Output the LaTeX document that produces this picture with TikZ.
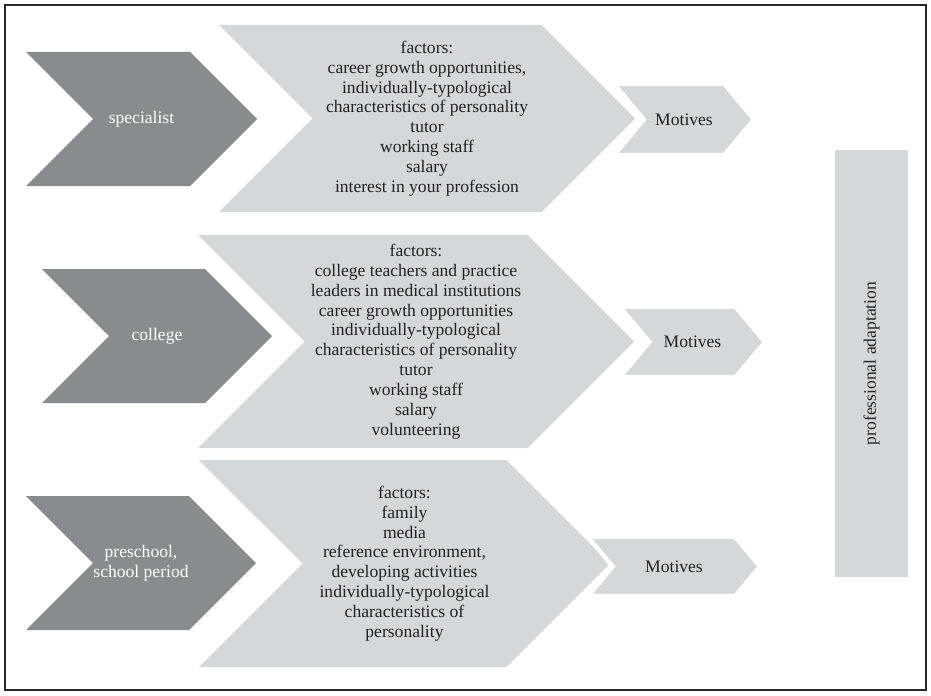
\documentclass[tikz,border=0pt]{standalone}
\usepackage{fontspec}
\setmainfont{Liberation Serif}
\usepackage{tikz}
\usetikzlibrary{shapes.symbols}
\definecolor{figdark}{RGB}{138,139,143}
\definecolor{figlight}{RGB}{214,215,217}
\definecolor{figtext}{RGB}{34,34,34}
\definecolor{figframe}{RGB}{40,40,40}
\tikzset{
  stagebox/.style={shape=signal, signal from=west, signal to=east, signal pointer angle=90, fill=figdark, inner sep=0pt, align=center, text=white, font=\fontsize{10}{11.3}\selectfont},
  factorbox/.style={shape=signal, signal from=west, signal to=east, signal pointer angle=90, fill=figlight, inner sep=0pt, align=center, text=figtext, font=\fontsize{10}{11.3}\selectfont},
  motivebox/.style={shape=signal, signal from=west, signal to=east, signal pointer angle=100, fill=figlight, draw=white, line width=2.5pt, inner sep=0pt, align=center, text=figtext, font=\fontsize{10}{11.3}\selectfont},
  resultbox/.style={rectangle, fill=figlight, inner sep=0pt, text=figtext, font=\fontsize{10}{11.3}\selectfont},
  outerframe/.style={draw=figframe, line width=0.7pt}
}

\begin{document}
\begin{tikzpicture}[x=1cm,y=1cm]
  \useasboundingbox (0,0) rectangle (18.62,13.9);
  \draw[outerframe] (0.1,0.1) rectangle (18.52,13.8);

  % specialist row
  \node[factorbox, minimum width=8.32cm, minimum height=3.74cm] (factorsA) at (8.54,11.53)
    {factors:\\career growth opportunities,\\individually-typological\\characteristics of personality\\tutor\\working staff\\salary\\interest in your profession};
  \node[stagebox, minimum width=4.62cm, minimum height=2.68cm] (specialist) at (2.83,11.52) {specialist};
  \node[motivebox, minimum width=2.8cm, minimum height=1.42cm] (motivesA) at (13.68,11.51) {Motives};

  % college row
  \node[factorbox, minimum width=8.72cm, minimum height=4.26cm] (factorsB) at (8.32,7.07)
    {factors:\\college teachers and practice\\leaders in medical institutions\\career growth opportunities\\individually-typological\\characteristics of personality\\tutor\\working staff\\salary\\volunteering};
  \node[stagebox, minimum width=4.6cm, minimum height=2.68cm] (college) at (3.14,7.18) {college};
  \node[motivebox, minimum width=2.9cm, minimum height=1.4cm] (motivesB) at (13.85,7.06) {Motives};

  % preschool row
  \node[factorbox, minimum width=8.22cm, minimum height=4.14cm] (factorsC) at (8.09,2.63)
    {factors:\\family\\media\\reference environment,\\developing activities\\individually-typological\\characteristics of\\personality};
  \node[stagebox, minimum width=4.6cm, minimum height=2.68cm] (preschool) at (2.82,2.64) {preschool,\\school period};
  \node[motivebox, minimum width=3.44cm, minimum height=1.18cm] (motivesC) at (13.48,2.57) {Motives};

  \node[resultbox, minimum width=1.46cm, minimum height=8.54cm] (adaptation) at (17.43,6.63) {};
  \node[rotate=90, text=figtext, font=\fontsize{10}{11.3}\selectfont] (adaptationText) at (adaptation.center) {professional adaptation};
\end{tikzpicture}
\end{document}
